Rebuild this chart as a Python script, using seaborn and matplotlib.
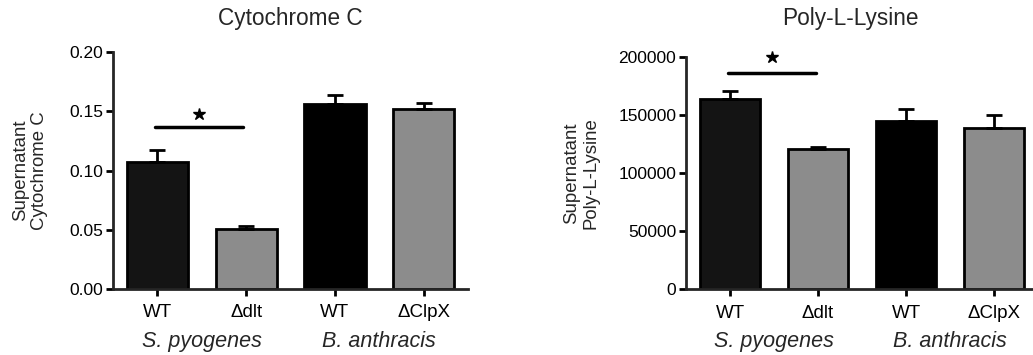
import numpy as np
import pandas as pd
import seaborn as sns
import matplotlib.pyplot as plt
import matplotlib.transforms as mtrans

sns.set_style("ticks")
plt.rcParams['font.family'] = ['Liberation Sans', 'DejaVu Sans']

# dados
cepas = ['sp_wt', 'sp_dlt', 'ba_wt', 'ba_clpx']
rotulos = ['WT', '\u0394dlt', 'WT', '\u0394ClpX']
grupos = ['S. pyogenes', 'B. anthracis']
cores = ['#141414', '#8c8c8c', '#000000', '#8c8c8c']

cito_media = [0.107, 0.0506, 0.156, 0.152]
cito_erro = [0.010, 0.0025, 0.008, 0.005]
poly_media = [163800, 121200, 145100, 139000]
poly_erro = [7400, 1800, 10300, 11300]

# barra de significancia: (x1, x2, altura)
cito_sig = (-0.03, 0.97, 0.137)
poly_sig = (-0.02, 0.98, 186700)

fig = plt.figure(figsize=(10.33, 3.55), dpi=100)


def painel(rect, medias, erros, titulo, ylabel, yticks, fmt, sig, star_y, title_x, ylab_x):
    ax = fig.add_axes(rect)
    df = pd.DataFrame({'cepa': cepas, 'valor': medias})
    sns.barplot(data=df, x='cepa', y='valor', hue='cepa', palette=cores,
                edgecolor='black', linewidth=2, width=0.69, legend=False, ax=ax)
    ax.errorbar(np.arange(4), medias, yerr=[np.zeros(4), erros], fmt='none',
                ecolor='black', elinewidth=2, capsize=6, capthick=2, zorder=5)
    ax.set_xlim(-0.5, 3.5)
    ax.set_ylim(yticks[0], yticks[-1])
    ax.set_yticks(yticks)
    ax.set_yticklabels([fmt(v) for v in yticks])
    ax.set_xticks(range(4))
    ax.set_xticklabels(rotulos)
    ax.set_xlabel('')
    ax.set_ylabel('')
    for s in ['top', 'right']:
        ax.spines[s].set_visible(False)
    for s in ['left', 'bottom']:
        ax.spines[s].set_linewidth(2)
    ax.tick_params(axis='both', width=2, length=5, colors='black')
    ax.tick_params(axis='y', pad=2, labelsize=12.5)
    ax.tick_params(axis='x', pad=6, labelsize=13.5)

    # significancia
    ax.plot([sig[0], sig[1]], [sig[2], sig[2]], color='black', lw=2.5,
            solid_capstyle='round', clip_on=False)
    ax.plot([(sig[0] + sig[1]) / 2], [star_y], marker='*', color='black',
            markersize=9, clip_on=False)

    # rotulos dos grupos
    tr = mtrans.blended_transform_factory(ax.transData, fig.transFigure)
    ax.text(0.5, 0.037, grupos[0], transform=tr, ha='center', va='center',
            fontsize=15.5, style='italic')
    ax.text(2.5, 0.037, grupos[1], transform=tr, ha='center', va='center',
            fontsize=15.5, style='italic')

    fig.text(title_x, 0.947, titulo, ha='center', va='center', fontsize=16.3)
    fig.text(ylab_x, rect[1] + rect[3] / 2, ylabel, ha='center', va='center',
             rotation=90, fontsize=13.4, multialignment='center')
    return ax


painel([0.1094, 0.1859, 0.3437, 0.6676], cito_media, cito_erro, 'Cytochrome C',
       'Supernatant\nCytochrome C', [0, 0.05, 0.10, 0.15, 0.20],
       lambda v: f'{v:.2f}', cito_sig, 0.148, 0.2807, 0.029)

painel([0.6641, 0.185, 0.3408, 0.6535], poly_media, poly_erro, 'Poly-L-Lysine',
       'Supernatant\nPoly-L-Lysine', [0, 50000, 100000, 150000, 200000],
       lambda v: f'{int(v)}', poly_sig, 200000, 0.823, 0.5625)

fig.savefig('out.png', dpi=100)
